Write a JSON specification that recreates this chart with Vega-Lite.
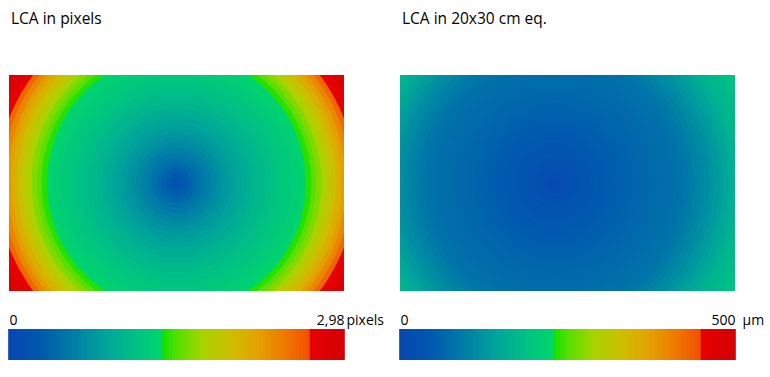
{
  "$schema": "https://vega.github.io/schema/vega-lite/v6.json",
  "background": "white",
  "autosize": "pad",
  "padding": {"left": 8, "top": 11, "right": 0, "bottom": 0},
  "config": {
    "view": {"stroke": null},
    "font": "Open Sans",
    "title": {"font": "Open Sans", "fontSize": 15.5, "fontWeight": "normal", "color": "black", "anchor": "start", "baseline": "alphabetic", "offset": 48, "dx": 2}
  },
  "datasets": {
    "rings": [
      {"d": 1.15, "px": 2.98, "um": 229.0},
      {"d": 1.125, "px": 2.98, "um": 221.0},
      {"d": 1.1, "px": 2.98, "um": 213.0},
      {"d": 1.075, "px": 2.98, "um": 205.0},
      {"d": 1.05, "px": 2.98, "um": 196.0},
      {"d": 1.025, "px": 2.98, "um": 188.0},
      {"d": 1.0, "px": 2.926, "um": 181.7},
      {"d": 0.975, "px": 2.844, "um": 176.6},
      {"d": 0.95, "px": 2.768, "um": 171.9},
      {"d": 0.925, "px": 2.697, "um": 167.4},
      {"d": 0.9, "px": 2.557, "um": 158.7},
      {"d": 0.875, "px": 2.384, "um": 148.0},
      {"d": 0.85, "px": 2.239, "um": 139.0},
      {"d": 0.825, "px": 2.106, "um": 130.7},
      {"d": 0.8, "px": 1.982, "um": 123.0},
      {"d": 0.775, "px": 1.863, "um": 115.6},
      {"d": 0.75, "px": 1.744, "um": 108.3},
      {"d": 0.725, "px": 1.625, "um": 100.9},
      {"d": 0.7, "px": 1.516, "um": 94.1},
      {"d": 0.675, "px": 1.412, "um": 87.7},
      {"d": 0.65, "px": 1.344, "um": 83.4},
      {"d": 0.625, "px": 1.299, "um": 80.7},
      {"d": 0.6, "px": 1.264, "um": 78.5},
      {"d": 0.575, "px": 1.234, "um": 76.6},
      {"d": 0.55, "px": 1.204, "um": 74.8},
      {"d": 0.525, "px": 1.175, "um": 72.9},
      {"d": 0.5, "px": 1.143, "um": 70.9},
      {"d": 0.475, "px": 1.109, "um": 68.9},
      {"d": 0.45, "px": 1.075, "um": 66.8},
      {"d": 0.425, "px": 1.043, "um": 64.7},
      {"d": 0.4, "px": 1.005, "um": 62.4},
      {"d": 0.375, "px": 0.964, "um": 59.9},
      {"d": 0.35, "px": 0.924, "um": 57.3},
      {"d": 0.325, "px": 0.883, "um": 54.8},
      {"d": 0.3, "px": 0.84, "um": 52.1},
      {"d": 0.275, "px": 0.795, "um": 49.4},
      {"d": 0.25, "px": 0.751, "um": 46.6},
      {"d": 0.225, "px": 0.706, "um": 43.8},
      {"d": 0.2, "px": 0.654, "um": 40.6},
      {"d": 0.175, "px": 0.595, "um": 36.9},
      {"d": 0.15, "px": 0.535, "um": 33.2},
      {"d": 0.125, "px": 0.476, "um": 29.5},
      {"d": 0.1, "px": 0.412, "um": 25.6},
      {"d": 0.075, "px": 0.346, "um": 21.5},
      {"d": 0.05, "px": 0.279, "um": 17.3},
      {"d": 0.025, "px": 0.212, "um": 13.2}
    ],
    "bar": [
      {"p": 0.0149, "u": 2.5}, {"p": 0.0447, "u": 7.5}, {"p": 0.0745, "u": 12.5}, {"p": 0.1043, "u": 17.5}, {"p": 0.1341, "u": 22.5},
      {"p": 0.1639, "u": 27.5}, {"p": 0.1937, "u": 32.5}, {"p": 0.2235, "u": 37.5}, {"p": 0.2533, "u": 42.5}, {"p": 0.2831, "u": 47.5},
      {"p": 0.3129, "u": 52.5}, {"p": 0.3427, "u": 57.5}, {"p": 0.3725, "u": 62.5}, {"p": 0.4023, "u": 67.5}, {"p": 0.4321, "u": 72.5},
      {"p": 0.4619, "u": 77.5}, {"p": 0.4917, "u": 82.5}, {"p": 0.5215, "u": 87.5}, {"p": 0.5513, "u": 92.5}, {"p": 0.5811, "u": 97.5},
      {"p": 0.6109, "u": 102.5}, {"p": 0.6407, "u": 107.5}, {"p": 0.6705, "u": 112.5}, {"p": 0.7003, "u": 117.5}, {"p": 0.7301, "u": 122.5},
      {"p": 0.7599, "u": 127.5}, {"p": 0.7897, "u": 132.5}, {"p": 0.8195, "u": 137.5}, {"p": 0.8493, "u": 142.5}, {"p": 0.8791, "u": 147.5},
      {"p": 0.9089, "u": 152.5}, {"p": 0.9387, "u": 157.5}, {"p": 0.9685, "u": 162.5}, {"p": 0.9983, "u": 167.5}, {"p": 1.0281, "u": 172.5},
      {"p": 1.0579, "u": 177.5}, {"p": 1.0877, "u": 182.5}, {"p": 1.1175, "u": 187.5}, {"p": 1.1473, "u": 192.5}, {"p": 1.1771, "u": 197.5},
      {"p": 1.2069, "u": 202.5}, {"p": 1.2367, "u": 207.5}, {"p": 1.2665, "u": 212.5}, {"p": 1.2963, "u": 217.5}, {"p": 1.3261, "u": 222.5},
      {"p": 1.3559, "u": 227.5}, {"p": 1.3857, "u": 232.5}, {"p": 1.4155, "u": 237.5}, {"p": 1.4453, "u": 242.5}, {"p": 1.4751, "u": 247.5},
      {"p": 1.5049, "u": 252.5}, {"p": 1.5347, "u": 257.5}, {"p": 1.5645, "u": 262.5}, {"p": 1.5943, "u": 267.5}, {"p": 1.6241, "u": 272.5},
      {"p": 1.6539, "u": 277.5}, {"p": 1.6837, "u": 282.5}, {"p": 1.7135, "u": 287.5}, {"p": 1.7433, "u": 292.5}, {"p": 1.7731, "u": 297.5},
      {"p": 1.8029, "u": 302.5}, {"p": 1.8327, "u": 307.5}, {"p": 1.8625, "u": 312.5}, {"p": 1.8923, "u": 317.5}, {"p": 1.9221, "u": 322.5},
      {"p": 1.9519, "u": 327.5}, {"p": 1.9817, "u": 332.5}, {"p": 2.0115, "u": 337.5}, {"p": 2.0413, "u": 342.5}, {"p": 2.0711, "u": 347.5},
      {"p": 2.1009, "u": 352.5}, {"p": 2.1307, "u": 357.5}, {"p": 2.1605, "u": 362.5}, {"p": 2.1903, "u": 367.5}, {"p": 2.2201, "u": 372.5},
      {"p": 2.2499, "u": 377.5}, {"p": 2.2797, "u": 382.5}, {"p": 2.3095, "u": 387.5}, {"p": 2.3393, "u": 392.5}, {"p": 2.3691, "u": 397.5},
      {"p": 2.3989, "u": 402.5}, {"p": 2.4287, "u": 407.5}, {"p": 2.4585, "u": 412.5}, {"p": 2.4883, "u": 417.5}, {"p": 2.5181, "u": 422.5},
      {"p": 2.5479, "u": 427.5}, {"p": 2.5777, "u": 432.5}, {"p": 2.6075, "u": 437.5}, {"p": 2.6373, "u": 442.5}, {"p": 2.6671, "u": 447.5},
      {"p": 2.6969, "u": 452.5}, {"p": 2.7267, "u": 457.5}, {"p": 2.7565, "u": 462.5}, {"p": 2.7863, "u": 467.5}, {"p": 2.8161, "u": 472.5},
      {"p": 2.8459, "u": 477.5}, {"p": 2.8757, "u": 482.5}, {"p": 2.9055, "u": 487.5}, {"p": 2.9353, "u": 492.5}, {"p": 2.9651, "u": 497.5}
    ]
  },
  "hconcat": [
    {
      "bounds": "flush",
      "spacing": 38,
      "resolve": {"scale": {"color": "independent", "x": "independent", "radius": "independent"}},
      "vconcat": [
        {
          "width": 335,
          "height": 216,
          "title": {"text": "LCA in pixels"},
          "data": {"name": "rings"},
          "mark": {"type": "arc", "clip": true},
          "encoding": {
            "radius": {"field": "d", "type": "quantitative", "stack": null, "scale": {"type": "linear", "domain": [0, 1], "range": [0, 199.3], "zero": true, "nice": false}},
            "color": {"field": "px", "type": "quantitative", "legend": null,
              "scale": {"domain": [0, 0.298, 0.596, 0.894, 1.1324, 1.3678, 1.3738, 1.49, 1.7284, 1.9668, 2.2052, 2.4436, 2.679, 2.685, 2.98],
                        "range": ["#0846b2", "#005aae", "#0080a6", "#00a898", "#00c184", "#00d66a", "#10e000", "#50e000", "#a8d400", "#ccc000", "#e2a400", "#ee7c00", "#f25000", "#e80000", "#d40006"],
                        "interpolate": "rgb"}}
          }
        },
        {
          "width": 335,
          "height": 31,
          "data": {"name": "bar"},
          "mark": {"type": "rect", "width": 5},
          "encoding": {
            "x": {"field": "p", "type": "quantitative", "scale": {"domain": [0, 2.98], "nice": false, "zero": true},
              "axis": {"orient": "top", "values": [0, 2.98], "labelFlush": true, "ticks": false, "domain": false, "grid": false,
                       "labelPadding": 2, "labelFontSize": 14, "labelFont": "Open Sans", "labelColor": "black",
                       "labelExpr": "datum.value == 0 ? '0' : replace(format(datum.value, '.2f'), '.', ',')",
                       "title": "pixels", "titleFontSize": 14, "titleFont": "Open Sans", "titleFontWeight": "normal", "titleColor": "black",
                       "titleAngle": 0, "titleAlign": "left", "titleBaseline": "bottom", "titleX": 337, "titleY": -2}},
            "color": {"field": "p", "type": "quantitative", "legend": null,
              "scale": {"domain": [0, 0.298, 0.596, 0.894, 1.1324, 1.3678, 1.3738, 1.49, 1.7284, 1.9668, 2.2052, 2.4436, 2.679, 2.685, 2.98],
                        "range": ["#0846b2", "#005aae", "#0080a6", "#00a898", "#00c184", "#00d66a", "#10e000", "#50e000", "#a8d400", "#ccc000", "#e2a400", "#ee7c00", "#f25000", "#e80000", "#d40006"],
                        "interpolate": "rgb"}}
          }
        }
      ]
    },
    {
      "bounds": "flush",
      "spacing": 38,
      "resolve": {"scale": {"color": "independent", "x": "independent", "radius": "independent"}},
      "vconcat": [
        {
          "width": 335,
          "height": 216,
          "title": {"text": "LCA in 20x30 cm eq."},
          "data": {"name": "rings"},
          "mark": {"type": "arc", "clip": true},
          "encoding": {
            "x": {"datum": 0.46, "type": "quantitative", "scale": {"domain": [0, 1], "nice": false, "zero": false}, "axis": null},
            "radius": {"field": "d", "type": "quantitative", "stack": null, "scale": {"type": "linear", "domain": [0, 1], "range": [0, 199.3], "zero": true, "nice": false}},
            "color": {"field": "um", "type": "quantitative", "legend": null,
              "scale": {"domain": [0, 50, 100, 150, 190, 229.5, 230.5, 250, 290, 330, 370, 410, 449.5, 450.5, 500],
                        "range": ["#0846b2", "#005aae", "#0080a6", "#00a898", "#00c184", "#00d66a", "#10e000", "#50e000", "#a8d400", "#ccc000", "#e2a400", "#ee7c00", "#f25000", "#e80000", "#d40006"],
                        "interpolate": "rgb"}}
          }
        },
        {
          "width": 335,
          "height": 31,
          "data": {"name": "bar"},
          "mark": {"type": "rect", "width": 5},
          "encoding": {
            "x": {"field": "u", "type": "quantitative", "scale": {"domain": [0, 500], "nice": false, "zero": true},
              "axis": {"orient": "top", "values": [0, 500], "labelFlush": true, "ticks": false, "domain": false, "grid": false,
                       "labelPadding": 2, "labelFontSize": 14, "labelFont": "Open Sans", "labelColor": "black",
                       "labelExpr": "format(datum.value, 'd')",
                       "title": "µm", "titleFontSize": 14, "titleFont": "Open Sans", "titleFontWeight": "normal", "titleColor": "black",
                       "titleAngle": 0, "titleAlign": "left", "titleBaseline": "bottom", "titleX": 342, "titleY": -2}},
            "color": {"field": "u", "type": "quantitative", "legend": null,
              "scale": {"domain": [0, 50, 100, 150, 190, 229.5, 230.5, 250, 290, 330, 370, 410, 449.5, 450.5, 500],
                        "range": ["#0846b2", "#005aae", "#0080a6", "#00a898", "#00c184", "#00d66a", "#10e000", "#50e000", "#a8d400", "#ccc000", "#e2a400", "#ee7c00", "#f25000", "#e80000", "#d40006"],
                        "interpolate": "rgb"}}
          }
        }
      ]
    }
  ],
  "spacing": 15,
  "bounds": "full",
  "resolve": {"scale": {"color": "independent", "x": "independent", "radius": "independent"}}
}
